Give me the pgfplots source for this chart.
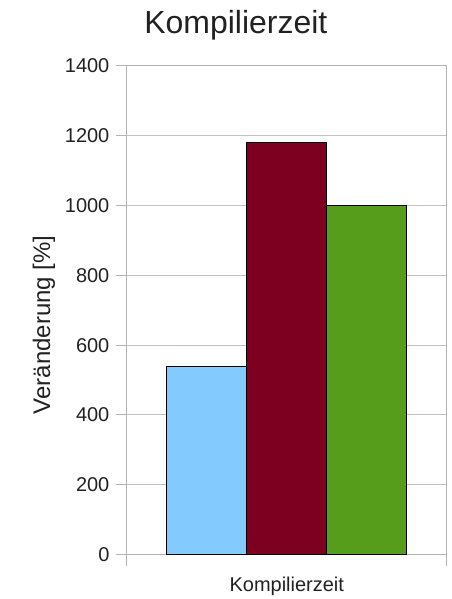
\documentclass[border=0pt]{standalone}
\usepackage{fontspec}
\setmainfont{Liberation Sans}
\usepackage{pgfplots}
\pgfplotsset{compat=1.18}
\definecolor{axgray}{HTML}{B3B3B3}
\definecolor{cblue}{HTML}{83CAFF}
\definecolor{cred}{HTML}{7E0021}
\definecolor{cgreen}{HTML}{579D1C}
\begin{document}
\begin{tikzpicture}
\begin{axis}[
  scale only axis, width=320pt, height=489pt,
  xmin=-1, xmax=1, ymin=0, ymax=1400,
  ytick={0,200,...,1400},
  xtick={-1,1}, xticklabels={},
  extra x ticks={0}, extra x tick labels={Kompilierzeit},
  extra x tick style={major tick length=0pt, grid=none},
  axis line style={draw=axgray, line width=1pt},
  ymajorgrids, grid style={draw=axgray!80, line width=1pt},
  major tick length=11pt,
  tick align=outside,
  tick style={draw=axgray, line width=1pt},
  xtick pos=bottom, ytick pos=left,
  /pgf/number format/assume math mode=true,
  /pgf/number format/1000 sep={},
  yticklabel style={font=\fontsize{20}{20}\selectfont, text=black!87, xshift=-3pt},
  xticklabel style={font=\fontsize{20}{20}\selectfont, text=black!87, yshift=-19pt},
  ybar, bar width=0.5,
  ylabel={Veränderung [\%]},
  ylabel style={font=\fontsize{24}{24}\selectfont, text=black!87, at={(ticklabel cs:0.47)}, yshift=3pt},
]
\addplot[fill=cblue, draw=black, line width=0.8pt, bar shift=-0.5] coordinates {(0,540)};
\addplot[fill=cred, draw=black, line width=0.8pt, bar shift=0] coordinates {(0,1180)};
\addplot[fill=cgreen, draw=black, line width=0.8pt, bar shift=0.5] coordinates {(0,1000)};
\end{axis}
\node[anchor=base, font=\fontsize{32}{32}\selectfont, text=black!87] at (109pt,521pt) {Kompilierzeit};
\path[use as bounding box] (-127pt,-44pt) rectangle (325pt,555pt);
\end{tikzpicture}
\end{document}
